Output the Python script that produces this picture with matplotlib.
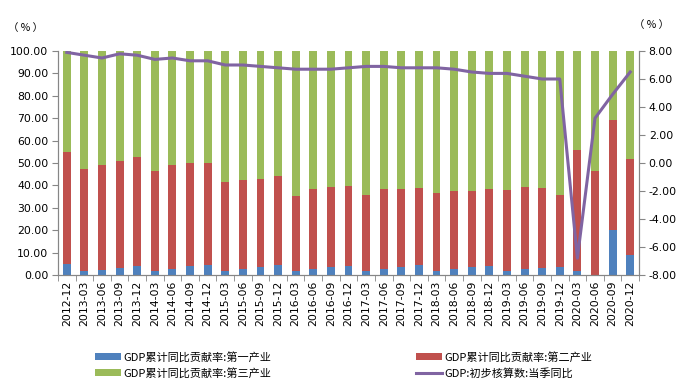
import matplotlib
matplotlib.use("Agg")
import matplotlib.pyplot as plt
import numpy as np

plt.rcParams['font.family'] = ['DejaVu Sans', 'Noto Sans CJK SC']

quarters = ["2012-12", "2013-03", "2013-06", "2013-09", "2013-12", "2014-03", "2014-06",
            "2014-09", "2014-12", "2015-03", "2015-06", "2015-09", "2015-12", "2016-03",
            "2016-06", "2016-09", "2016-12", "2017-03", "2017-06", "2017-09", "2017-12",
            "2018-03", "2018-06", "2018-09", "2018-12", "2019-03", "2019-06", "2019-09",
            "2019-12", "2020-03", "2020-06", "2020-09", "2020-12"]

primary = [5.1, 1.8, 2.4, 3.3, 4.2, 1.8, 2.7, 4.2, 4.5, 1.8, 2.7, 3.6, 4.5, 1.8, 2.7, 3.6,
           4.2, 1.8, 2.7, 3.6, 4.5, 1.8, 2.7, 3.6, 4.2, 1.8, 2.7, 3.3, 3.6, 1.8, 0.0, 20.2, 8.9]
secondary = [49.8, 45.5, 46.7, 47.6, 48.5, 44.6, 46.4, 45.8, 45.5, 39.7, 39.7, 39.3, 39.7,
             33.5, 35.7, 35.7, 35.5, 33.9, 35.7, 34.8, 34.3, 34.8, 34.8, 33.9, 34.2, 36.1,
             36.6, 35.5, 32.1, 54.0, 46.4, 49.0, 42.9]
tertiary = [45.1, 52.7, 50.9, 49.1, 47.3, 53.6, 50.9, 50.0, 50.0, 58.5, 57.6, 57.1, 55.8,
            64.7, 61.6, 60.7, 60.3, 64.3, 61.6, 61.6, 61.2, 63.4, 62.5, 62.5, 61.6, 62.1,
            60.7, 61.2, 64.3, 44.2, 53.6, 30.8, 48.2]
gdp_yoy = [7.9, 7.7, 7.5, 7.8, 7.7, 7.4, 7.5, 7.3, 7.3, 7.0, 7.0, 6.9, 6.8, 6.7, 6.7, 6.7,
           6.8, 6.9, 6.9, 6.8, 6.8, 6.8, 6.7, 6.5, 6.4, 6.4, 6.2, 6.0, 6.0, -6.8, 3.2, 4.9, 6.5]

names = ["GDP累计同比贡献率:第一产业", "GDP累计同比贡献率:第二产业",
         "GDP累计同比贡献率:第三产业", "GDP:初步核算数:当季同比"]

c_blue, c_red, c_green, c_purple = "#4F81BD", "#C0504D", "#9BBB59", "#8064A2"
axis_gray = "#868686"

fig = plt.figure(figsize=(6.83, 3.9), dpi=100)
ax = fig.add_axes([58/683, 1-275/390, (639-58)/683, (275-51)/390])

x = np.arange(len(quarters))
p = np.array(primary)
s = np.array(secondary)
t = np.array(tertiary)
w = 0.45
b1 = ax.bar(x, p, w, color=c_blue, zorder=2)
b2 = ax.bar(x, s, w, bottom=p, color=c_red, zorder=2)
b3 = ax.bar(x, t, w, bottom=p + s, color=c_green, zorder=2)

ax.set_xlim(-0.5, len(quarters) - 0.5)
ax.set_ylim(0, 100)
ax.set_yticks(np.arange(0, 101, 10))
ax.set_yticklabels([f"{v:.2f}" for v in np.arange(0, 101, 10)], fontsize=7.8)
ax.set_xticks(x)
ax.set_xticklabels(quarters, rotation=90, fontsize=7.8)
ax.set_xticks(np.arange(-0.5, len(quarters), 1), minor=True)
ax.tick_params(axis='x', which='major', length=0, pad=4)
ax.tick_params(axis='x', which='minor', length=4, color=axis_gray)
ax.tick_params(axis='y', length=4, color=axis_gray, pad=3)

for sp in ["top"]:
    ax.spines[sp].set_visible(False)
for sp in ["left", "right", "bottom"]:
    ax.spines[sp].set_color(axis_gray)
    ax.spines[sp].set_linewidth(0.8)

ax2 = ax.twinx()
ax2.set_ylim(-8, 8)
yt2 = np.arange(-8, 8.1, 2)
ax2.set_yticks(yt2)
ax2.set_yticklabels([f"{v:.2f}" for v in yt2], fontsize=7.8)
ax2.tick_params(axis='y', length=4, color=axis_gray, pad=3)
ax2.spines["top"].set_visible(False)
for sp in ["left", "right", "bottom"]:
    ax2.spines[sp].set_color(axis_gray)
    ax2.spines[sp].set_linewidth(0.8)
ln, = ax2.plot(x, gdp_yoy, color=c_purple, lw=2.2, solid_joinstyle='round', zorder=3)

fig.text(25/683, 1-28/390, "（ % ）", fontsize=7.5, ha='center', va='center',
         family=['Noto Sans CJK SC', 'DejaVu Sans'])
fig.text(652/683, 1-25/390, "（ % ）", fontsize=7.5, ha='center', va='center',
         family=['Noto Sans CJK SC', 'DejaVu Sans'])

leg = fig.legend([b1, b3, b2, ln], [names[0], names[2], names[1], names[3]],
                 ncol=2, loc='upper left', bbox_to_anchor=(89/683, 1-346/390),
                 frameon=False, borderpad=0, handlelength=2.4, handleheight=0.6,
                 handletextpad=0.2, labelspacing=0.45, columnspacing=13.0,
                 prop={'family': ['Noto Sans CJK SC', 'DejaVu Sans'], 'size': 8})

fig.savefig("out.png", dpi=100)
